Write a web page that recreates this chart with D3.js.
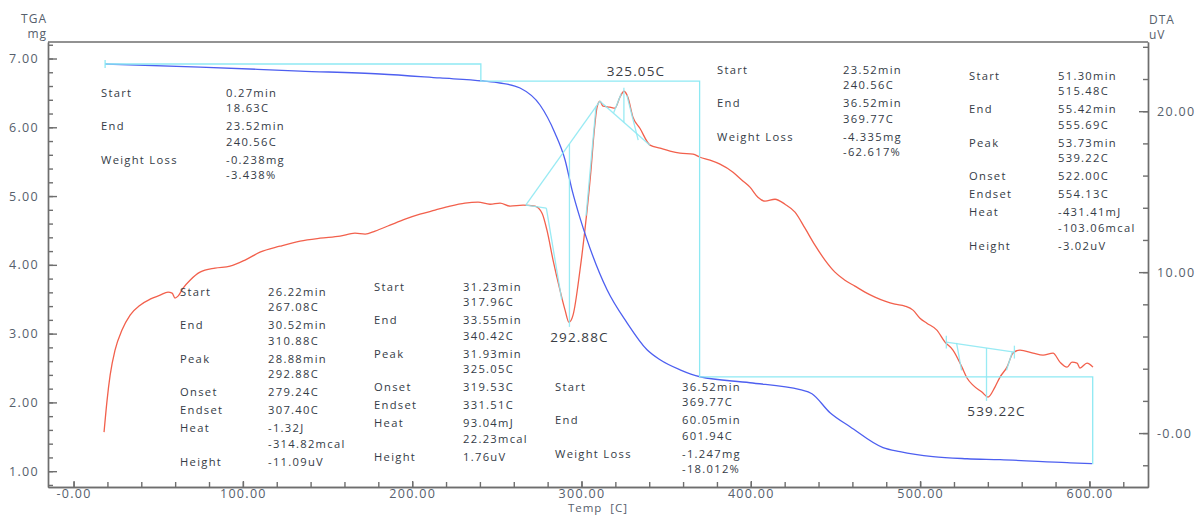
<!DOCTYPE html>
<html>
<head>
<meta charset="utf-8">
<script src="https://cdn.jsdelivr.net/npm/d3@7/dist/d3.min.js"></script>
<style>
  body { margin: 0; background: #fff; }
  svg { display: block; font-family: "Open Sans", sans-serif; }
</style>
</head>
<body>
<div id="chart"></div>
<script>
const W = 1199, H = 515;
const m = {l: 48, r: 1148, t: 42, b: 487};

// TGA curve: temperature [C] -> mass [mg]
const tgaTemp = [18.6, 74.7, 133.8, 181.0, 216.4, 241.8, 251.8, 263.7, 275.5, 284.3, 290.3, 294.4, 299.1, 303.3,
  315.1, 326.9, 338.7, 346.4, 358.2, 370.0, 399.5, 429.1, 436.1, 446.8, 458.6, 478.1, 488.1, 507.6, 527.7, 547.2, 586.8, 601.5];
const tgaMass = [6.92, 6.876, 6.818, 6.775, 6.717, 6.673, 6.644, 6.571, 6.324, 5.918, 5.525, 5.09, 4.683, 4.363,
  3.637, 3.157, 2.765, 2.62, 2.474, 2.373, 2.286, 2.184, 2.126, 1.85, 1.647, 1.342, 1.283, 1.211, 1.181, 1.167, 1.123, 1.109];

// DTA curve: temperature [C] -> signal [uV]
const dtaTemp = [18.0, 19.8, 21.6, 24.5, 28.6, 33.4, 39.3, 45.2, 51.1, 55.8, 58.2, 59.9, 61.7, 64.7, 68.8, 74.7, 83.6,
  92.4, 101.3, 110.1, 121.9, 133.8, 145.6, 157.4, 166.2, 172.2, 178.1, 186.9, 195.8, 204.6, 213.5, 222.3, 231.2, 238.9,
  246.0, 251.9, 257.8, 265.5, 272.5, 276.7, 279.6, 283.2, 287.3, 290.3, 292.6, 295.0, 299.1, 303.3, 305.6, 307.4, 309.2,
  310.9, 312.7, 316.8, 319.8, 322.7, 325.1, 327.4, 330.4, 334.5, 340.5, 346.4, 352.3, 358.2, 365.9, 370.0, 375.9, 381.8,
  389.5, 394.8, 399.5, 404.2, 408.4, 414.3, 420.2, 426.1, 432.0, 437.9, 443.8, 449.7, 455.6, 461.5, 467.4, 473.3, 479.2,
  485.1, 491.0, 495.8, 499.9, 504.0, 509.9, 514.7, 519.4, 524.7, 527.7, 531.2, 536.5, 540.1, 544.2, 547.2, 551.3, 554.9,
  559.0, 566.7, 572.6, 578.5, 582.6, 586.8, 589.7, 592.7, 594.4, 598.6, 602.1];
const dtaUV = [0.06, 2.05, 3.6, 5.16, 6.4, 7.33, 7.95, 8.32, 8.57, 8.76, 8.7, 8.39, 8.51, 9.01, 9.5, 10.0, 10.25,
  10.37, 10.75, 11.24, 11.61, 11.93, 12.11, 12.24, 12.42, 12.36, 12.55, 12.92, 13.29, 13.6, 13.85, 14.1, 14.29, 14.35,
  14.22, 14.29, 14.1, 14.16, 14.1, 13.66, 12.61, 10.75, 8.88, 7.64, 6.89, 7.33, 10.12, 13.85, 16.34, 18.63, 20.25,
  20.62, 20.31, 20.25, 20.19, 20.87, 21.24, 20.87, 19.63, 18.94, 17.89, 17.7, 17.52, 17.39, 17.33, 17.14, 16.96, 16.71,
  16.21, 15.71, 15.28, 14.66, 14.41, 14.53, 14.22, 13.73, 12.73, 11.68, 10.75, 10.0, 9.5, 9.13, 8.76, 8.45, 8.2,
  8.01, 7.89, 7.64, 7.14, 6.83, 6.4, 5.65, 5.16, 4.1, 3.42, 2.98, 2.55, 2.24, 2.86, 3.48, 4.1, 4.97,
  5.16, 4.97, 4.84, 4.97, 4.41, 4.1, 4.41, 4.35, 4.04, 4.35, 4.1];

// TGA weight-loss steps (start/end of each step)
const stepTemp = [18.63, 240.56, 240.56, 369.77, 369.77, 601.94, 601.94];
const stepMass = [6.92, 6.92, 6.67, 6.67, 2.37, 2.37, 1.10];

// DTA peak construction segments: [T1, uV1, T2, uV2]
const dtaGuides = [
  [267.08, 14.16, 310.88, 20.62], [267.08, 14.16, 279.24, 13.98], [279.24, 13.98, 288.3, 8.3],
  [292.88, 17.97, 292.88, 6.6], [302.7, 13.5, 308.6, 20.3],
  [310.88, 20.62, 340.42, 17.89], [325.05, 19.31, 325.05, 21.45], [319.0, 19.9, 323.5, 21.1], [326.8, 21.0, 333.5, 18.2],
  [515.48, 5.65, 555.69, 5.03], [515.48, 5.25, 515.48, 6.05], [555.69, 4.63, 555.69, 5.43],
  [539.22, 5.28, 539.22, 2.0], [521.5, 5.6, 524.5, 3.9], [554.5, 5.05, 551.0, 3.9]
];

const peakLabels = ["292.88C", "325.05C", "539.22C"];
const peakTemps = [292.88, 325.05, 539.22];
const peakValues = [6.89, 21.24, 2.24];

const massTicks = [1, 2, 3, 4, 5, 6, 7];
const massMinor = d3.range(4, 37).map(i => +(i * 0.2).toFixed(1));
const uvTicks = [0, 10, 20];
const uvMinor = d3.range(-1, 13).map(i => i * 2);
const tempTicks = [0, 100, 200, 300, 400, 500, 600];
const tempMinor = d3.range(0, 32).map(i => i * 20);

// result tables
const blockTGA1 = [["Start", "0.27min", "18.63C"], ["End", "23.52min", "240.56C"], ["Weight Loss", "-0.238mg", "-3.438%"]];
const blockTGA2 = [["Start", "23.52min", "240.56C"], ["End", "36.52min", "369.77C"], ["Weight Loss", "-4.335mg", "-62.617%"]];
const blockTGA3 = [["Start", "36.52min", "369.77C"], ["End", "60.05min", "601.94C"], ["Weight Loss", "-1.247mg", "-18.012%"]];
const blockDTA1 = [["Start", "26.22min", "267.08C"], ["End", "30.52min", "310.88C"], ["Peak", "28.88min", "292.88C"],
  ["Onset", "279.24C"], ["Endset", "307.40C"], ["Heat", "-1.32J", "-314.82mcal"], ["Height", "-11.09uV"]];
const blockDTA2 = [["Start", "31.23min", "317.96C"], ["End", "33.55min", "340.42C"], ["Peak", "31.93min", "325.05C"],
  ["Onset", "319.53C"], ["Endset", "331.51C"], ["Heat", "93.04mJ", "22.23mcal"], ["Height", "1.76uV"]];
const blockDTA3 = [["Start", "51.30min", "515.48C"], ["End", "55.42min", "555.69C"], ["Peak", "53.73min", "539.22C"],
  ["Onset", "522.00C"], ["Endset", "554.13C"], ["Heat", "-431.41mJ", "-103.06mcal"], ["Height", "-3.02uV"]];

const fmt = d => d === 0 ? "-0.00" : d3.format(".2f")(d);

const x = d3.scaleLinear().domain([-15.1, 634.6]).range([m.l, m.r]);
const yT = d3.scaleLinear().domain([0.77, 7.24]).range([m.b, m.t]);
const yD = d3.scaleLinear().domain([-3.35, 24.3]).range([m.b, m.t]);

const svg = d3.select("#chart").append("svg").attr("width", W).attr("height", H);
svg.append("rect").attr("width", W).attr("height", H).attr("fill", "#fff");

const axisCol = "#6e6e6e", tickCol = "#56606c", textCol = "#343b46";
const cyan = "#8ee9f3", red = "#f2604c", blue = "#4d5ff0";

function styleAxis(g) {
  g.selectAll("path, line").attr("stroke", axisCol).attr("stroke-width", 1.4);
  g.selectAll("text").attr("fill", tickCol).attr("font-size", 12.5).attr("letter-spacing", 1.3)
    .attr("font-family", "Open Sans, sans-serif");
}

// minor ticks
svg.append("g").attr("transform", `translate(${m.l},0)`)
  .call(d3.axisLeft(yT).tickValues(massMinor).tickSize(-5).tickSizeOuter(0).tickFormat(""))
  .call(styleAxis);
svg.append("g").attr("transform", `translate(${m.r},0)`)
  .call(d3.axisRight(yD).tickValues(uvMinor).tickSize(-5).tickSizeOuter(0).tickFormat(""))
  .call(styleAxis);
svg.append("g").attr("transform", `translate(0,${m.b})`)
  .call(d3.axisBottom(x).tickValues(tempMinor).tickSize(-5).tickSizeOuter(0).tickFormat(""))
  .call(styleAxis);

// major ticks
svg.append("g").attr("transform", `translate(${m.l},0)`)
  .call(d3.axisLeft(yT).tickValues(massTicks).tickSize(-9).tickSizeOuter(0).tickPadding(9).tickFormat(fmt))
  .call(styleAxis);
svg.append("g").attr("transform", `translate(${m.r},0)`)
  .call(d3.axisRight(yD).tickValues(uvTicks).tickSize(-9).tickSizeOuter(0).tickPadding(9).tickFormat(fmt))
  .call(styleAxis);
svg.append("g").attr("transform", `translate(0,${m.b})`)
  .call(d3.axisBottom(x).tickValues(tempTicks).tickSize(-6).tickSizeOuter(0).tickPadding(2).tickFormat(fmt))
  .call(styleAxis);

// top frame
svg.append("line").attr("x1", m.l).attr("x2", m.r).attr("y1", m.t).attr("y2", m.t)
  .attr("stroke", axisCol).attr("stroke-width", 1.4);

// axis titles
const titles = svg.append("g").attr("fill", tickCol).attr("font-size", 12).attr("letter-spacing", 1);
titles.append("text").attr("x", 47).attr("y", 23).attr("text-anchor", "end").text("TGA");
titles.append("text").attr("x", 47).attr("y", 38).attr("text-anchor", "end").text("mg");
titles.append("text").attr("x", 1149).attr("y", 24).text("DTA");
titles.append("text").attr("x", 1149).attr("y", 39).text("uV");
titles.append("text").attr("x", 598).attr("y", 512).attr("text-anchor", "middle")
  .attr("font-size", 11.5).style("white-space", "pre").text("Temp  [C]");

// curves
const lineT = d3.line().x(d => x(d[0])).y(d => yT(d[1])).curve(d3.curveMonotoneX);
const lineD = d3.line().x(d => x(d[0])).y(d => yD(d[1])).curve(d3.curveMonotoneX);
const lineStepPath = d3.line().x(d => x(d[0])).y(d => yT(d[1]));

svg.append("path").datum(d3.zip(dtaTemp, dtaUV)).attr("d", lineD)
  .attr("fill", "none").attr("stroke", red).attr("stroke-width", 1.3);
svg.append("path").datum(d3.zip(tgaTemp, tgaMass)).attr("d", lineT)
  .attr("fill", "none").attr("stroke", blue).attr("stroke-width", 1.3);

// TGA step construction
svg.append("path").datum(d3.zip(stepTemp, stepMass)).attr("d", lineStepPath)
  .attr("fill", "none").attr("stroke", cyan).attr("stroke-width", 1.3);
svg.append("line")
  .attr("x1", x(stepTemp[0])).attr("x2", x(stepTemp[0]))
  .attr("y1", yT(stepMass[0]) - 4).attr("y2", yT(stepMass[0]) + 4)
  .attr("stroke", cyan).attr("stroke-width", 1.3);

// DTA peak construction
svg.append("g").selectAll("line").data(dtaGuides).join("line")
  .attr("x1", d => x(d[0])).attr("y1", d => yD(d[1]))
  .attr("x2", d => x(d[2])).attr("y2", d => yD(d[3]))
  .attr("stroke", cyan).attr("stroke-width", 1.3).attr("opacity", 0.9);

// peak labels
const peakOffset = [20, -15, 19];
svg.append("g").selectAll("text").data(peakLabels).join("text")
  .attr("x", (d, i) => x(peakTemps[i]) + (i === 1 ? 12 : 10))
  .attr("y", (d, i) => yD(peakValues[i]) + peakOffset[i])
  .attr("text-anchor", "middle").attr("fill", "#3a3d44")
  .attr("font-size", 13.5).attr("letter-spacing", 1.1)
  .text(d => d);

// result tables
const blocks = [
  {rows: blockTGA1, lx: 101, vx: 226, y: 93},
  {rows: blockTGA2, lx: 717, vx: 843, y: 70},
  {rows: blockTGA3, lx: 555, vx: 682, y: 387},
  {rows: blockDTA1, lx: 180, vx: 268, y: 292},
  {rows: blockDTA2, lx: 374, vx: 463, y: 287},
  {rows: blockDTA3, lx: 969, vx: 1058, y: 76}
];
const lineStep = 15.5, entryStep = 18;

blocks.forEach(b => {
  const g = svg.append("g").attr("fill", textCol).attr("font-size", 11.2).attr("letter-spacing", 1.3);
  let yy = b.y;
  b.rows.forEach(r => {
    g.append("text").attr("x", b.lx).attr("y", yy).attr("dy", "0.35em").text(r[0]);
    r.slice(1).forEach((v, j) => {
      g.append("text").attr("x", b.vx).attr("y", yy + j * lineStep).attr("dy", "0.35em").text(v);
    });
    yy += (r.length - 2) * lineStep + entryStep;
  });
});
</script>
</body>
</html>
